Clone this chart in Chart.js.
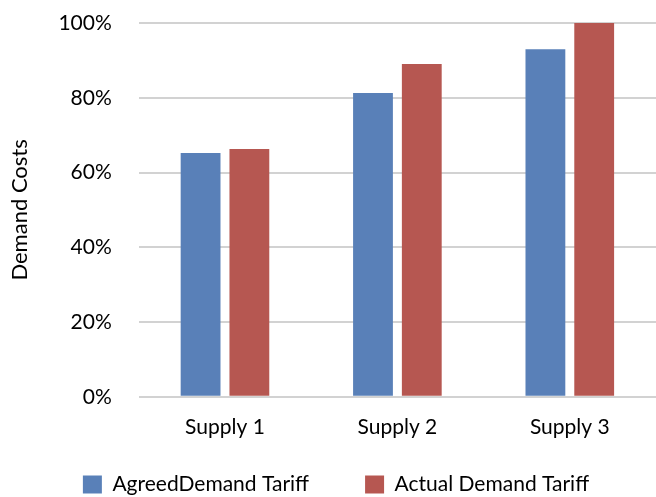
<!DOCTYPE html>
<html>
<head>
<meta charset="utf-8">
<script src="https://cdn.jsdelivr.net/npm/chart.js@4/dist/chart.umd.min.js"></script>
<style>
html,body{margin:0;padding:0;background:#fff;}
#c{display:block;}
</style>
</head>
<body>
<canvas id="c" width="656" height="497"></canvas>
<script>
const categories = ["Supply 1", "Supply 2", "Supply 3"];
const agreedDemandTariff = [65.2, 81.3, 93.0];
const actualDemandTariff = [66.3, 89.0, 100];
const seriesNames = ["AgreedDemand Tariff", "Actual Demand Tariff"];
const yTickStep = 20;

const FONT = "Lato, 'DejaVu Sans', sans-serif";
Chart.defaults.font.family = FONT;
Chart.defaults.color = "#000";

new Chart(document.getElementById("c"), {
  type: "bar",
  data: {
    labels: categories,
    datasets: [
      { label: seriesNames[0], data: agreedDemandTariff, backgroundColor: "#5980b8",
        categoryPercentage: 0.566, barPercentage: 0.816 },
      { label: seriesNames[1], data: actualDemandTariff, backgroundColor: "#b65751",
        categoryPercentage: 0.566, barPercentage: 0.816 }
    ]
  },
  options: {
    responsive: false,
    animation: false,
    devicePixelRatio: 1,
    layout: { padding: { top: 23, right: 0, left: 16, bottom: 0 } },
    plugins: {
      legend: {
        position: "bottom",
        maxHeight: 39,
        title: { display: true, text: "", font: { size: 10, lineHeight: 1 }, padding: { top: -50, bottom: 0 } },
        labels: { boxWidth: 19, boxHeight: 18, padding: 56, font: { size: 21 }, color: "#000" }
      },
      tooltip: { enabled: false }
    },
    scales: {
      x: {
        grid: { display: false, drawTicks: false },
        border: { display: false },
        ticks: { font: { size: 21 }, padding: 18, color: "#000" },
        afterFit: s => { s.paddingLeft = 0; s.paddingRight = 0; }
      },
      y: {
        min: 0, max: 100,
        grid: { color: "#d2d2d2", lineWidth: 2, drawTicks: false },
        border: { display: false },
        ticks: { stepSize: yTickStep, font: { size: 21 }, padding: 27, color: "#000",
                 callback: v => v + "%" },
        title: { display: true, text: "Demand Costs", font: { size: 22 }, color: "#000",
                 padding: { top: -9, bottom: -2 } },
        afterFit: s => { s.paddingTop = 0; s.paddingBottom = 0; }
      }
    }
  }
});
</script>
</body>
</html>
